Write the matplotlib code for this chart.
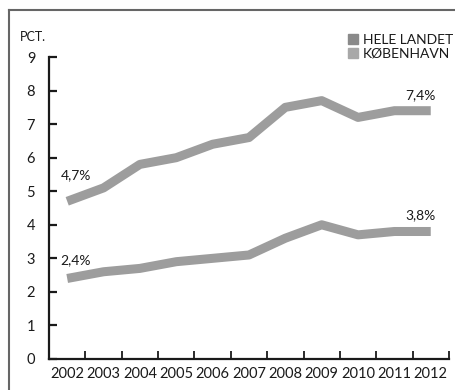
import matplotlib
matplotlib.use("Agg")
import matplotlib.pyplot as plt
from matplotlib.lines import Line2D

plt.rcParams['font.family'] = ['Lato', 'DejaVu Sans']

years = ['2002', '2003', '2004', '2005', '2006', '2007', '2008', '2009', '2010', '2011', '2012']
koebenhavn = [4.7, 5.1, 5.8, 6.0, 6.4, 6.6, 7.5, 7.7, 7.2, 7.4, 7.4]
hele_landet = [2.4, 2.6, 2.7, 2.9, 3.0, 3.1, 3.6, 4.0, 3.7, 3.8, 3.8]
y_ticks = [0, 1, 2, 3, 4, 5, 6, 7, 8, 9]

line_color = '#9d9d9d'
ink = '#1a1a1a'

fig = plt.figure(figsize=(4.56, 3.9), dpi=100)
ax = fig.add_axes([0.1075, 0.0795, 0.877, 0.7743])

x = list(range(len(years)))
ax.plot(x, koebenhavn, color=line_color, lw=6.5, solid_capstyle='butt', solid_joinstyle='round')
ax.plot(x, hele_landet, color=line_color, lw=6.5, solid_capstyle='butt', solid_joinstyle='round')

ax.set_xlim(-0.5, len(years) - 0.5)
ax.set_ylim(0, 9)
ax.set_yticks(y_ticks)
ax.set_yticklabels([str(v) for v in y_ticks], fontsize=10.5, color=ink)
ax.set_xticks(x)
ax.set_xticklabels(years, fontsize=10.5, color=ink)
ax.set_xticks([i + 0.5 for i in x], minor=True)

ax.tick_params(axis='y', direction='in', length=6, width=1.6, color=ink, pad=10)
ax.tick_params(axis='x', which='major', length=0, pad=6)
ax.tick_params(axis='x', which='minor', direction='in', length=6, width=1.3, color=ink)

for side in ['top', 'right']:
    ax.spines[side].set_visible(False)
for side in ['left', 'bottom']:
    ax.spines[side].set_color(ink)
    ax.spines[side].set_linewidth(1.6)

# value labels at both ends of each series
ax.text(0.25, koebenhavn[0] + 0.78, '4,7%', fontsize=10, color=ink, ha='center', va='center')
ax.text(9.72, koebenhavn[-1] + 0.46, '7,4%', fontsize=10, color=ink, ha='center', va='center')
ax.text(0.22, hele_landet[0] + 0.55, '2,4%', fontsize=10, color=ink, ha='center', va='center')
ax.text(9.72, hele_landet[-1] + 0.49, '3,8%', fontsize=10, color=ink, ha='center', va='center')

fig.text(20 / 456, 1 - 37 / 390, 'PCT.', fontsize=9, color=ink, ha='left', va='center')

handles = [Line2D([], [], marker='s', ls='none', ms=7, color='#8a8a8a'),
           Line2D([], [], marker='s', ls='none', ms=7, color='#a8a8a8')]
fig.legend(handles, ['HELE LANDET', 'KØBENHAVN'], loc='upper right',
           bbox_to_anchor=(1.015, 1 - 24 / 390), frameon=False, fontsize=10,
           handlelength=0.8, handletextpad=0.3, labelspacing=0.15, borderpad=0.2,
           labelcolor=ink)

# outer frame lines along left and top
fig.add_artist(Line2D([9 / 456, 9 / 456], [0, 1 - 10 / 390], color='#666666', lw=1.5,
                      transform=fig.transFigure))
fig.add_artist(Line2D([9 / 456, 1], [1 - 10 / 390, 1 - 10 / 390], color='#666666', lw=1.5,
                      transform=fig.transFigure))

fig.savefig('out.png', dpi=100, facecolor='white')
